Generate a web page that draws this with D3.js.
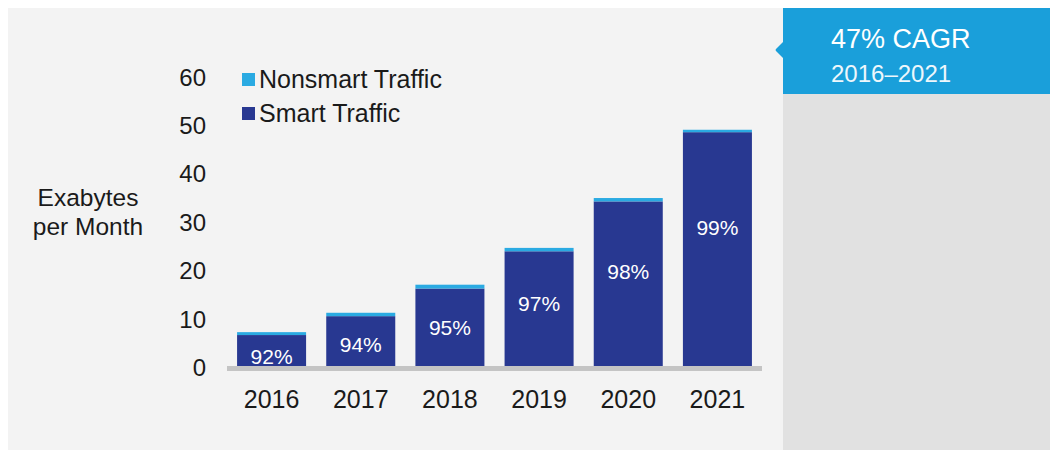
<!DOCTYPE html>
<html>
<head>
<meta charset="utf-8">
<script src="https://cdn.jsdelivr.net/npm/d3@7"></script>
<style>
  html, body { margin: 0; padding: 0; background: #ffffff; }
  svg { display: block; font-family: "Liberation Sans", Arial, sans-serif; }
</style>
</head>
<body>
<svg id="chart" width="1050" height="451"></svg>
<script>
// Mobile data traffic, exabytes per month
const years = ["2016", "2017", "2018", "2019", "2020", "2021"];
const smartTraffic = [6.6, 10.5, 16.2, 23.9, 34.2, 48.5];
const nonsmartTraffic = [0.6, 0.7, 0.8, 0.7, 0.7, 0.5];
const smartShare = ["92%", "94%", "95%", "97%", "98%", "99%"];
const yTicks = [0, 10, 20, 30, 40, 50, 60];
const legendItems = ["Nonsmart Traffic", "Smart Traffic"];
const calloutLines = ["47% CAGR", "2016\u20132021"];

const COLOR_SMART = "#283891";
const COLOR_NONSMART = "#2aaae2";

const svg = d3.select("#chart");

// Backgrounds: light panel for the chart, grey side panel with blue callout
svg.append("rect").attr("x", 8).attr("y", 8).attr("width", 775).attr("height", 442).attr("fill", "#f3f3f3");
svg.append("rect").attr("x", 783).attr("y", 8).attr("width", 267).attr("height", 442).attr("fill", "#e1e1e1");
svg.append("rect").attr("x", 783).attr("y", 8).attr("width", 267).attr("height", 86).attr("fill", "#1a9fda");
svg.append("path").attr("d", "M783,42 L776,49 Q775,50 776,51 L783,58 Z").attr("fill", "#1a9fda");

svg.append("text").attr("x", 831).attr("y", 48).attr("fill", "#ffffff")
  .attr("font-size", 27).text(calloutLines[0]);
svg.append("text").attr("x", 831).attr("y", 82).attr("fill", "#eef7fc")
  .attr("font-size", 24).text(calloutLines[1]);

// Scales
const x = d3.scaleBand().domain(years).range([227, 762]).paddingInner(0.226).paddingOuter(0.113);
const y = d3.scaleLinear().domain([0, 60]).range([367, 76.5]);

const rows = years.map((yr, i) => ({
  year: yr,
  smart: smartTraffic[i],
  nonsmart: nonsmartTraffic[i],
  share: smartShare[i]
}));

const stack = d3.stack().keys(["smart", "nonsmart"]);
const series = stack(rows);
const colors = { smart: COLOR_SMART, nonsmart: COLOR_NONSMART };

svg.append("g").selectAll("g").data(series).join("g")
  .attr("fill", d => colors[d.key])
  .selectAll("rect").data(d => d).join("rect")
  .attr("x", d => x(d.data.year))
  .attr("width", x.bandwidth())
  .attr("y", d => y(d[1]))
  .attr("height", d => y(d[0]) - y(d[1]));

// Baseline
svg.append("rect").attr("x", 227).attr("y", y(0) - 1).attr("width", 535).attr("height", 5).attr("fill", "#c4c4c4");

// Share labels inside the smart-traffic bars, sitting a little above centre on taller bars
svg.append("g").selectAll("text").data(rows).join("text")
  .attr("x", d => x(d.year) + x.bandwidth() / 2)
  .attr("y", d => {
    const h = y(0) - y(d.smart);
    return y(0) + 10.5 - 0.64 * h;
  })
  .attr("dy", "0.35em")
  .attr("text-anchor", "middle")
  .attr("fill", "#ffffff")
  .attr("font-size", 21)
  .text(d => d.share);

// Y axis tick labels
const yAxis = d3.axisLeft(y).tickValues(yTicks).tickSize(0).tickPadding(0);
const gy = svg.append("g").attr("transform", "translate(206,0)").call(yAxis);
gy.select(".domain").remove();
gy.selectAll("text").attr("font-size", 24).attr("fill", "#1a1a1a")
  .attr("font-family", "'Liberation Sans', Arial, sans-serif").attr("dy", "0.36em");

// X axis year labels
const xAxis = d3.axisBottom(x).tickSize(0).tickPadding(0);
const gx = svg.append("g").attr("transform", "translate(0,390)").call(xAxis);
gx.select(".domain").remove();
gx.selectAll("text").attr("font-size", 25).attr("fill", "#1a1a1a")
  .attr("font-family", "'Liberation Sans', Arial, sans-serif").attr("dy", "0.72em");

// Y axis title
const title = svg.append("text").attr("text-anchor", "middle").attr("font-size", 24.5).attr("fill", "#1a1a1a");
title.append("tspan").attr("x", 88).attr("y", 206).text("Exabytes");
title.append("tspan").attr("x", 88).attr("y", 235).text("per Month");

// Legend
const legend = svg.append("g");
const legendColors = [COLOR_NONSMART, COLOR_SMART];
legendItems.forEach((label, i) => {
  const ly = 79.5 + i * 34;
  legend.append("rect").attr("x", 242).attr("y", ly - 6.5).attr("width", 13).attr("height", 13).attr("fill", legendColors[i]);
  legend.append("text").attr("x", 259).attr("y", ly).attr("dy", "0.35em")
    .attr("font-size", 25).attr("fill", "#1a1a1a").text(label);
});
</script>
</body>
</html>
